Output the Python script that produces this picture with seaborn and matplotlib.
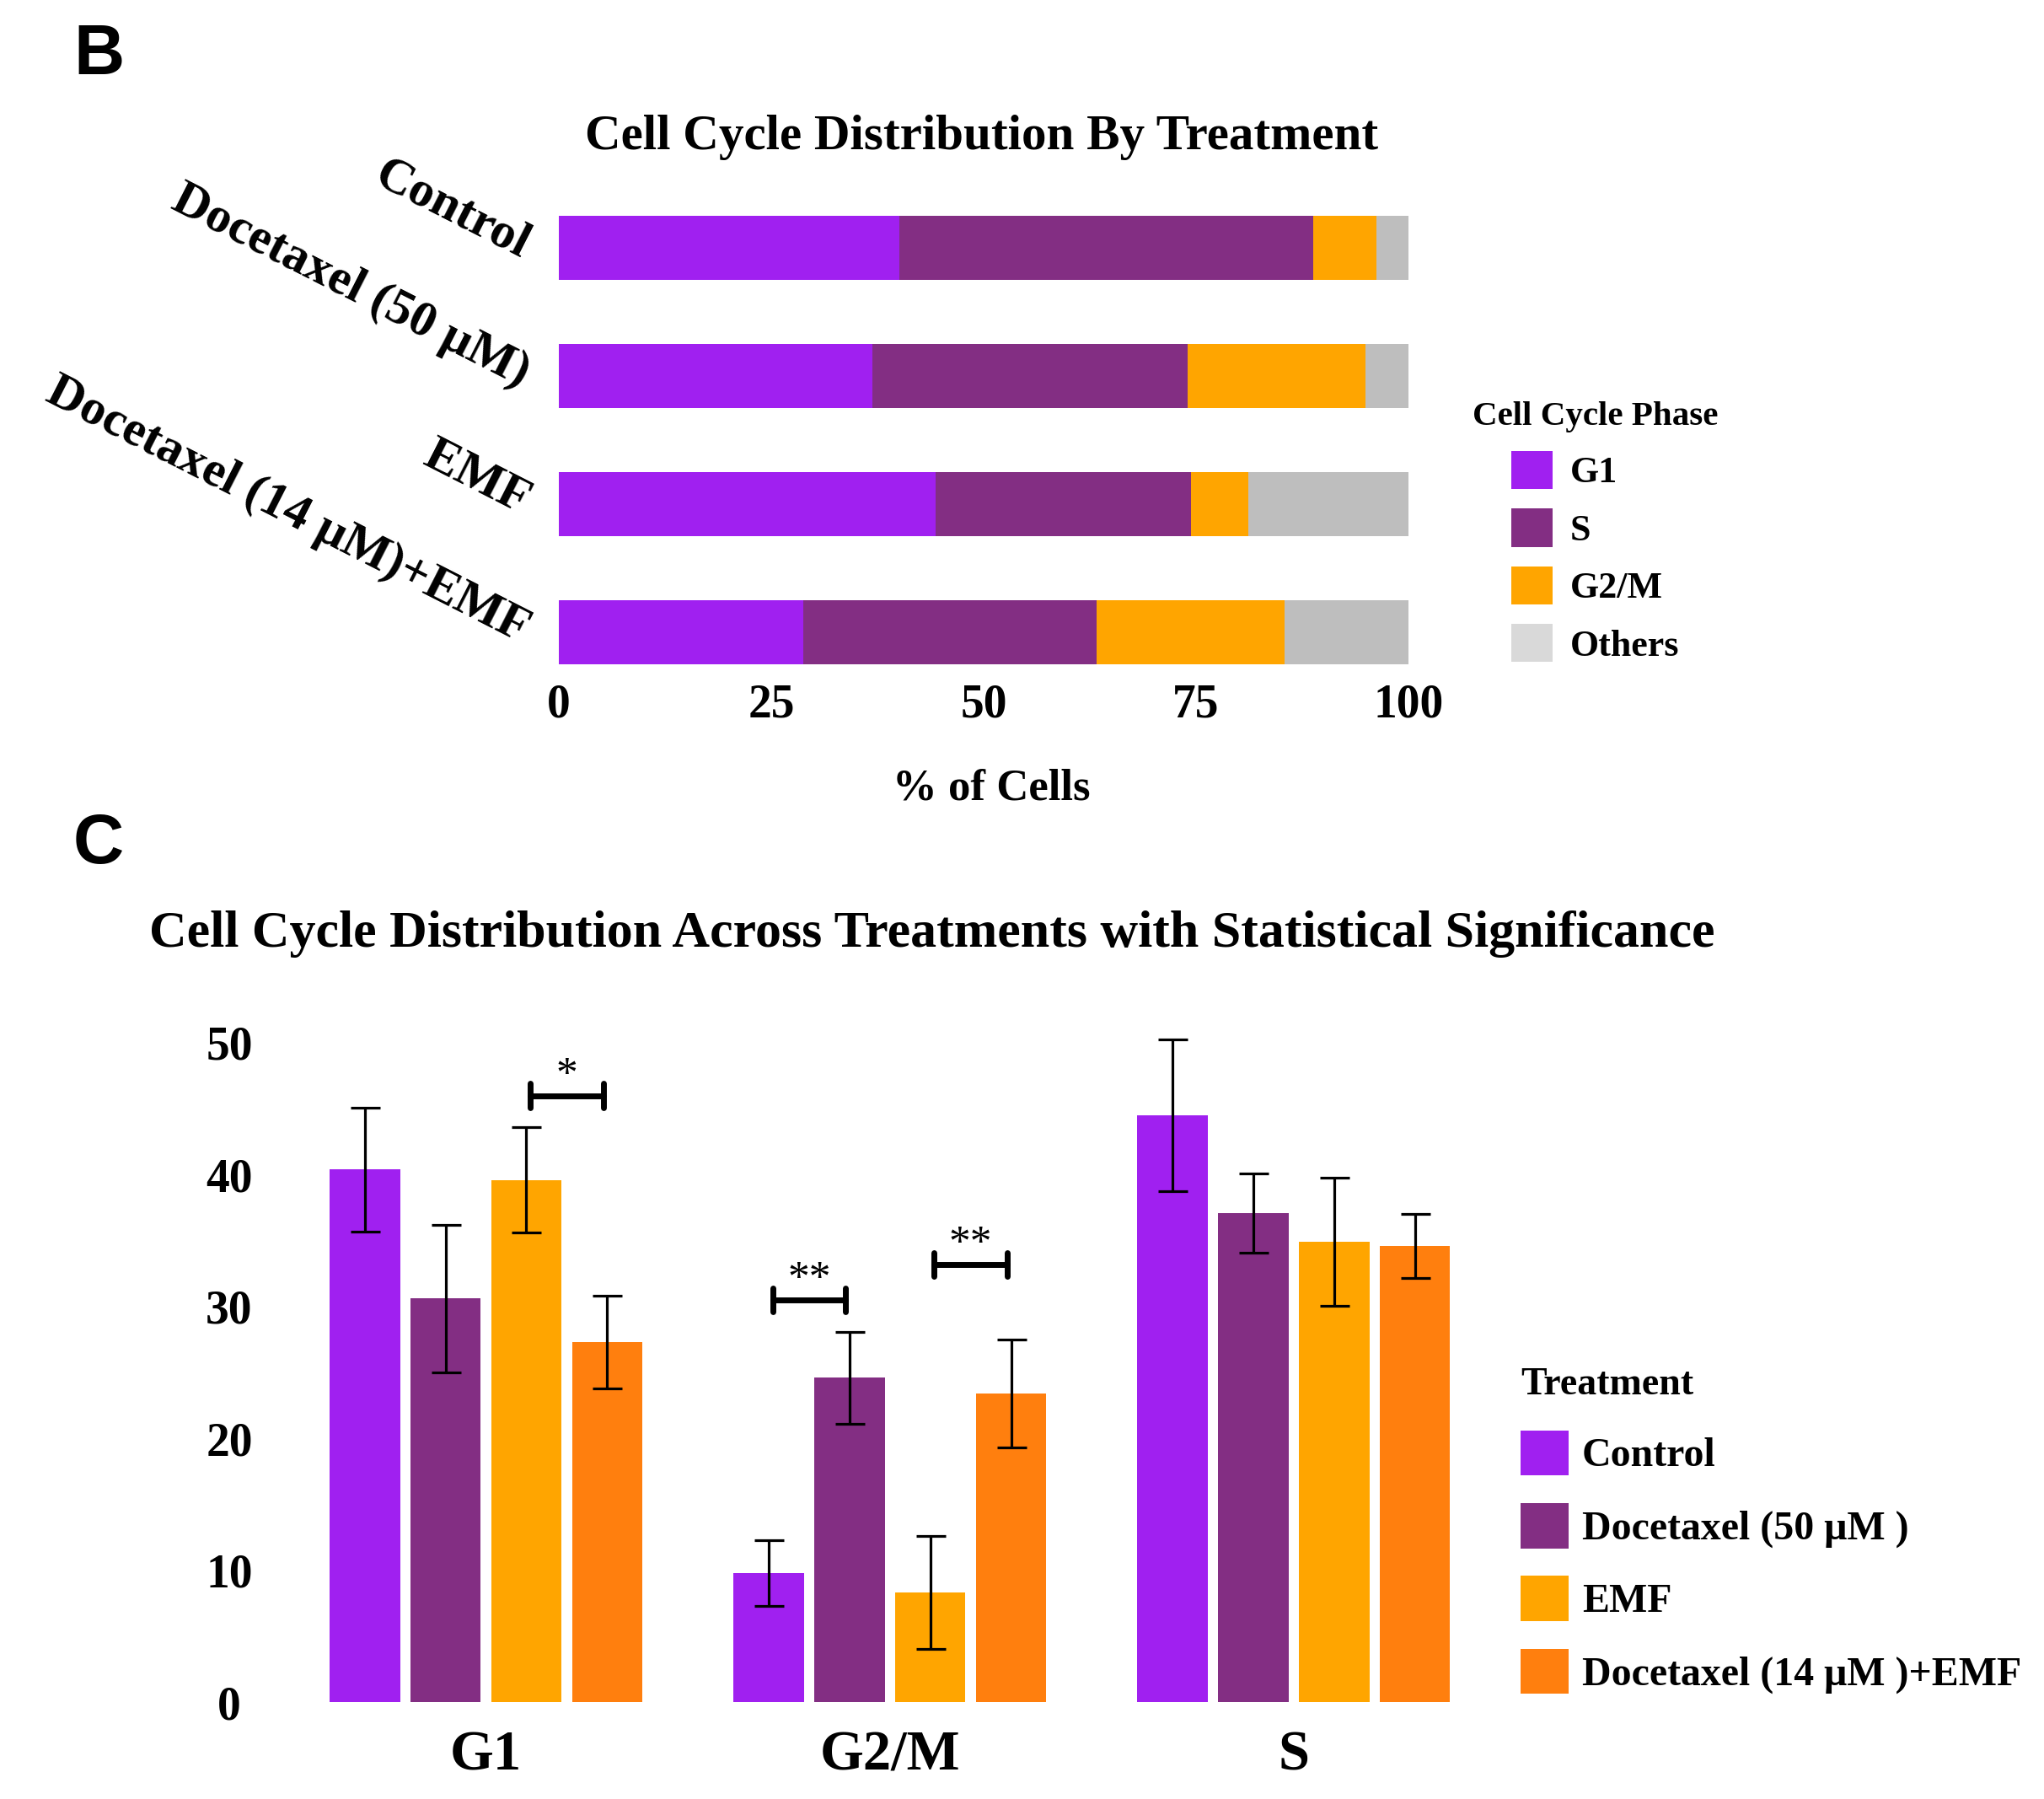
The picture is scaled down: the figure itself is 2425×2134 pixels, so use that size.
import pandas as pd
import matplotlib.pyplot as plt
import seaborn as sns
from matplotlib.patches import Patch

# panel B - stacked % of cells per treatment
treatments_b = ['Control', 'Docetaxel (50 μM)', 'EMF', 'Docetaxel (14 μM)+EMF']
phases_b = ['G1', 'S', 'G2/M', 'Others']
g1_pct = [40.1, 36.9, 44.3, 28.8]
s_pct = [48.7, 37.1, 30.1, 34.5]
g2m_pct = [7.4, 20.9, 6.8, 22.1]
others_pct = [3.8, 5.1, 18.8, 14.6]
phase_colors = ['#A020F0', '#832E83', '#FFA500', '#BEBEBE']
phase_legend_colors = ['#A020F0', '#832E83', '#FFA500', '#D9D9D9']

# panel C - mean +/- sd per phase and treatment
phases_c = ['G1', 'G2/M', 'S']
treatments_c = ['Control', 'Docetaxel (50 μM )', 'EMF', 'Docetaxel (14 μM )+EMF']
treat_colors = ['#A020F0', '#832E83', '#FFA500', '#FF7F0E']
control_mean = [40.4, 9.8, 44.5]
doc50_mean = [30.6, 24.6, 37.1]
emf_mean = [39.6, 8.3, 34.9]
doc14_emf_mean = [27.3, 23.4, 34.6]
control_sd = [4.7, 2.5, 5.75]
doc50_sd = [5.6, 3.5, 3.0]
emf_sd = [4.0, 4.3, 4.85]
doc14_emf_sd = [3.5, 4.1, 2.45]

# significance brackets: (phase index, hue a, hue b)
sig_pairs = [(0, 2, 3), (1, 0, 1), (1, 2, 3)]
sig_y = [46.0, 30.5, 33.2]
sig_text = ['*', '**', '**']

sns.set_theme(style='white')
plt.rcParams['font.family'] = ['Liberation Serif', 'DejaVu Serif']
plt.rcParams['font.weight'] = 'bold'
for key in ['text.color', 'axes.labelcolor', 'xtick.color', 'ytick.color']:
    plt.rcParams[key] = 'black'

W, H = 2425, 2134
fig = plt.figure(figsize=(W / 100, H / 100), dpi=100)

# ---------------- panel B ----------------
ax1 = fig.add_axes([663 / W, 1 - 795.6 / H, 1008 / W, 577.6 / H])
df_b = pd.DataFrame({'Treatment': treatments_b, 'G1': g1_pct, 'S': s_pct,
                     'G2/M': g2m_pct, 'Others': others_pct})
cum = df_b[phases_b].cumsum(axis=1)
# draw from the total down so each segment shows on top of the next
for phase, col in reversed(list(zip(phases_b, phase_colors))):
    sns.barplot(x=cum[phase], y=df_b['Treatment'], color=col, orient='h',
                width=0.5, saturation=1, linewidth=0, ax=ax1)

ax1.set_xlim(0, 100)
ax1.set_ylim(3.3, -0.5)
ax1.set_xticks([0, 25, 50, 75, 100])
ax1.set_xlabel('')
ax1.set_ylabel('')
ax1.tick_params(axis='x', length=0, pad=11, labelsize=40)
ax1.tick_params(axis='y', length=0, pad=28, labelsize=43)
for lab in ax1.get_yticklabels():
    lab.set_rotation(-27)
    lab.set_ha('right')
    lab.set_va('center')
    lab.set_rotation_mode('anchor')
sns.despine(ax=ax1, left=True, bottom=True)

fig.text(1165 / W, 1 - 177 / H, 'Cell Cycle Distribution By Treatment',
         ha='center', va='baseline', fontsize=42.5, fontweight='bold')
fig.text(1176 / W, 1 - 948 / H, '% of Cells', ha='center', va='baseline',
         fontsize=38, fontweight='bold')

handles_b = [Patch(facecolor=c, edgecolor='none') for c in phase_legend_colors]
ax1.legend(handles_b, phases_b, title='Cell Cycle Phase', loc='upper left',
           bbox_to_anchor=(1747 / W, 1 - 476 / H), bbox_transform=fig.transFigure,
           frameon=False, fontsize=31.7,
           title_fontproperties={'size': 29.5, 'weight': 'bold'},
           handlelength=1.11, handleheight=1.2, labelspacing=0.5,
           handletextpad=0.48, borderpad=0, borderaxespad=0)

# ---------------- panel C ----------------
ax2 = fig.add_axes([337 / W, 1 - 2019 / H, 1437.5 / W, 813.3 / H])
rows = []
for t, m, s in zip(treatments_c,
                   [control_mean, doc50_mean, emf_mean, doc14_emf_mean],
                   [control_sd, doc50_sd, emf_sd, doc14_emf_sd]):
    for p, mv, sv in zip(phases_c, m, s):
        rows.append((p, t, mv, sv))
df_c = pd.DataFrame(rows, columns=['Phase', 'Treatment', 'Mean', 'SD'])

sns.barplot(data=df_c, x='Phase', y='Mean', hue='Treatment', order=phases_c,
            hue_order=treatments_c, palette=treat_colors, saturation=1,
            width=0.8, gap=0.13, errorbar=None, linewidth=0, ax=ax2)

centers = []
for container, t in zip(ax2.containers, treatments_c):
    xs = [b.get_x() + b.get_width() / 2 for b in container]
    hs = [b.get_height() for b in container]
    sd = df_c[df_c['Treatment'] == t].set_index('Phase').loc[phases_c, 'SD']
    ax2.errorbar(xs, hs, yerr=sd.values, fmt='none', ecolor='black',
                 elinewidth=2.3, capsize=12.6, capthick=2.3)
    centers.append(xs)

for (k, a, b), y, txt in zip(sig_pairs, sig_y, sig_text):
    xa = centers[a][k] + 0.01
    xb = centers[b][k] - 0.01
    kw = dict(color='black', lw=5, solid_capstyle='round')
    ax2.plot([xa, xb], [y, y], **kw)
    ax2.plot([xa, xa], [y - 0.9, y + 0.9], **kw)
    ax2.plot([xb, xb], [y - 0.9, y + 0.9], **kw)
    ax2.text((xa + xb) / 2, y + 0.75, txt, ha='center', va='baseline',
             fontsize=37, fontweight='normal')

ax2.set_xlim(-0.5, 2.5)
ax2.set_ylim(0, 52)
ax2.set_yticks([0, 10, 20, 30, 40, 50])
ax2.set_xlabel('')
ax2.set_ylabel('')
ax2.tick_params(axis='y', length=0, pad=46.8, labelsize=40)
ax2.tick_params(axis='x', length=0, pad=23.8, labelsize=48)
for lab in ax2.get_yticklabels():
    lab.set_ha('center')
sns.despine(ax=ax2, left=True, bottom=True)

fig.text(1106 / W, 1 - 1123 / H,
         'Cell Cycle Distribution Across Treatments with Statistical Significance',
         ha='center', va='baseline', fontsize=44.6, fontweight='bold')

handles_c, labels_c = ax2.get_legend_handles_labels()
ax2.legend(handles_c, labels_c, title='Treatment', loc='upper left',
           bbox_to_anchor=(1804 / W, 1 - 1622 / H), bbox_transform=fig.transFigure,
           frameon=False, fontsize=34.5,
           title_fontproperties={'size': 33, 'weight': 'bold'}, alignment='left',
           handlelength=1.19, handleheight=1.35, labelspacing=0.68,
           handletextpad=0.33, borderpad=0, borderaxespad=0)

# panel letters
fig.text(87 / W, 1 - 88 / H, 'B', fontsize=60, fontweight='bold',
         family=['Liberation Sans', 'DejaVu Sans'], ha='left', va='baseline')
fig.text(87 / W, 1 - 1024 / H, 'C', fontsize=60, fontweight='bold',
         family=['Liberation Sans', 'DejaVu Sans'], ha='left', va='baseline')

fig.savefig('out.png', dpi=100)
